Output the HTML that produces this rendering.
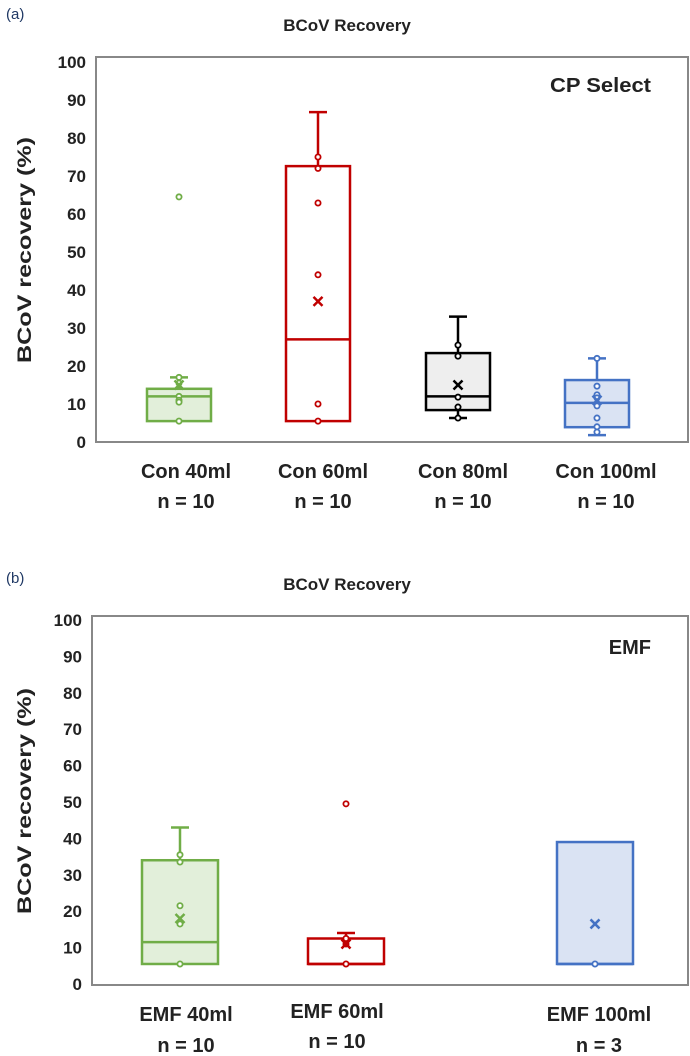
<!DOCTYPE html>
<html><head><meta charset="utf-8">
<style>
html,body{margin:0;padding:0;background:#fff;}
svg{display:block;font-family:"Liberation Sans",sans-serif;}
.t{font-weight:bold;fill:#222;}
</style></head>
<body>
<svg id="chart" width="690" height="1056" viewBox="0 0 690 1056">
<text x="6" y="19" font-size="15" fill="#1f3864">(a)</text>
<text x="347" y="31" font-size="17" class="t" text-anchor="middle">BCoV Recovery</text>
<text x="651" y="92" font-size="20" class="t" text-anchor="end" fill="#111" textLength="101" lengthAdjust="spacingAndGlyphs">CP Select</text>
<text transform="translate(31,250) rotate(-90)" font-size="19" class="t" text-anchor="middle" textLength="226" lengthAdjust="spacingAndGlyphs">BCoV recovery (%)</text>
<text x="6" y="583" font-size="15" fill="#1f3864">(b)</text>
<text x="347" y="590" font-size="17" class="t" text-anchor="middle">BCoV Recovery</text>
<text x="651" y="654" font-size="20" class="t" text-anchor="end" fill="#111">EMF</text>
<text transform="translate(31,801) rotate(-90)" font-size="19" class="t" text-anchor="middle" textLength="226" lengthAdjust="spacingAndGlyphs">BCoV recovery (%)</text>
<g id="pa"></g>
<g id="pb"></g>
</svg>
<script>
const yTicks = [0,10,20,30,40,50,60,70,80,90,100];
// Panel A data
const catsA = ["Con 40ml","Con 60ml","Con 80ml","Con 100ml"];
const nA = ["n = 10","n = 10","n = 10","n = 10"];
const q1A = [5.5, 5.5, 8.4, 3.9];
const medA = [12, 27, 12, 10.3];
const q3A = [14, 72.6, 23.4, 16.3];
const wLoA = [5.5, 5.5, 6.3, 1.8];
const wHiA = [17, 86.8, 33, 22];
const meanA = [15, 37, 15, 11];
const ptsA = [[64.5,17,15.5,12,11,10.5,5.5],[75,72,62.9,44,10,5.5],[25.5,22.6,11.8,9.2,6.3],[22,14.7,12.4,11.6,9.5,6.3,4,2.6]];
// Panel B data
const catsB = ["EMF 40ml","EMF 60ml","EMF 100ml"];
const nB = ["n = 10","n = 10","n = 3"];
const q1B = [5.5, 5.5, 5.5];
const medB = [11.5, 5.5, 5.5];
const q3B = [34, 12.5, 39];
const wLoB = [5.5, 5.5, 5.5];
const wHiB = [43, 14, 39];
const meanB = [18, 11, 16.5];
const ptsB = [[35.5,33.5,21.5,16.5,5.5],[49.5,12.5,11,5.5],[5.5]];

const colA = [["#70ad47","#e2efda"],["#c00000","#ffffff"],["#000000","#eeeeee"],["#4472c4","#dae3f3"]];
const colB = [["#70ad47","#e2efda"],["#c00000","#ffffff"],["#4472c4","#dae3f3"]];
const NS="http://www.w3.org/2000/svg";
function mk(p,tag,a){const e=document.createElementNS(NS,tag);for(const k in a)e.setAttribute(k,a[k]);p.appendChild(e);return e;}

function panel(g,cfg){
  const y=v=>cfg.y0-v*(cfg.y0-cfg.y100)/100;
  const fr=mk(g,'rect',{x:cfg.left,y:cfg.top,width:cfg.right-cfg.left,height:cfg.bottom-cfg.top,fill:'none',stroke:'#888','stroke-width':2});
  
  
  yTicks.forEach(t=>{
    const tx=mk(g,'text',{x:cfg.left-10,y:y(t)+6,'font-size':17,'text-anchor':'end',class:'t'});
    tx.textContent=t;
    
    
  });
  cfg.cats.forEach((c,i)=>{
    const cx=cfg.cx[i], hw=cfg.bw/2, [sc,fc]=cfg.col[i];
    const bg=mk(g,'g',{});
    
    
    if(cfg.wHi[i]>cfg.q3[i]){
      mk(bg,'line',{x1:cx,x2:cx,y1:y(cfg.q3[i]),y2:y(cfg.wHi[i]),stroke:sc,'stroke-width':2.5});
      mk(bg,'line',{x1:cx-9,x2:cx+9,y1:y(cfg.wHi[i]),y2:y(cfg.wHi[i]),stroke:sc,'stroke-width':2.5});
    }
    if(cfg.wLo[i]<cfg.q1[i]){
      mk(bg,'line',{x1:cx,x2:cx,y1:y(cfg.q1[i]),y2:y(cfg.wLo[i]),stroke:sc,'stroke-width':2.5});
      mk(bg,'line',{x1:cx-9,x2:cx+9,y1:y(cfg.wLo[i]),y2:y(cfg.wLo[i]),stroke:sc,'stroke-width':2.5});
    }
    mk(bg,'rect',{x:cx-hw,y:y(cfg.q3[i]),width:cfg.bw,height:y(cfg.q1[i])-y(cfg.q3[i]),fill:fc,stroke:sc,'stroke-width':2.5});
    mk(bg,'line',{x1:cx-hw,x2:cx+hw,y1:y(cfg.med[i]),y2:y(cfg.med[i]),stroke:sc,'stroke-width':2.5});
    cfg.pts[i].forEach(p=>{
      const c2=mk(bg,'circle',{cx:cx,cy:y(p),r:2.6,fill:'#fff',stroke:sc,'stroke-width':1.8});
      
      
    });
    const my=y(cfg.mean[i]), s=4.5;
    const m=mk(bg,'path',{d:`M${cx-s} ${my-s}L${cx+s} ${my+s}M${cx+s} ${my-s}L${cx-s} ${my+s}`,stroke:sc,'stroke-width':2.5});
    
    
    const l1=mk(g,'text',{x:cfg.lx[i],y:cfg.ly1[i],'font-size':20,'text-anchor':'middle',class:'t'});
    l1.textContent=c;
    
    
    const l2=mk(g,'text',{x:cfg.lx[i],y:cfg.ly2[i],'font-size':20,'text-anchor':'middle',class:'t'});
    l2.textContent=cfg.n[i];
    
    
  });
}
panel(document.getElementById('pa'),{y0:442,y100:62,left:96,right:688,top:57,bottom:442,bw:64,
  cats:catsA,n:nA,q1:q1A,med:medA,q3:q3A,wLo:wLoA,wHi:wHiA,mean:meanA,pts:ptsA,col:colA,
  cx:[179,318,458,597],lx:[186,323,463,606],ly1:[478,478,478,478],ly2:[508,508,508,508]});
panel(document.getElementById('pb'),{y0:984,y100:620,left:92,right:688,top:616,bottom:985,bw:76,
  cats:catsB,n:nB,q1:q1B,med:medB,q3:q3B,wLo:wLoB,wHi:wHiB,mean:meanB,pts:ptsB,col:colB,
  cx:[180,346,595],lx:[186,337,599],ly1:[1021,1018,1021],ly2:[1052,1048,1052]});
</script>
</body></html>
